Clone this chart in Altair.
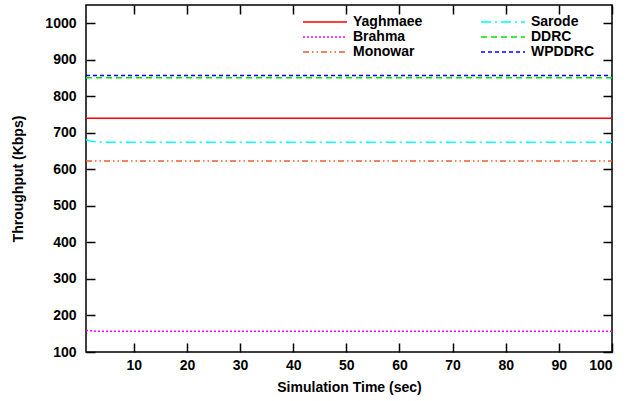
import altair as alt
import pandas as pd

# ---- data ----
series_order = ["Yaghmaee", "Brahma", "Monowar", "Sarode", "DDRC", "WPDDRC"]

yaghmaee_t = [1, 100]
yaghmaee_v = [740, 740]
brahma_t = [1, 3, 100]
brahma_v = [159, 157, 157]
monowar_t = [1, 100]
monowar_v = [623, 623]
sarode_t = [1, 2, 3, 5, 8, 100]
sarode_v = [681, 677, 675, 674, 674, 674]
ddrc_t = [1, 100]
ddrc_v = [851, 851]
wpddrc_t = [1, 100]
wpddrc_v = [857, 857]

x_ticks = [10, 20, 30, 40, 50, 60, 70, 80, 90, 100]
y_ticks = [100, 200, 300, 400, 500, 600, 700, 800, 900, 1000]

colors = {"Yaghmaee": "#ff0000", "Sarode": "#00ffff", "Brahma": "#ff00ff",
          "DDRC": "#00e000", "Monowar": "#f05a28", "WPDDRC": "#0000ff"}
dashes = {"Yaghmaee": [1, 0], "Sarode": [10, 4, 2, 4], "Brahma": [2, 2],
          "DDRC": [6, 4], "Monowar": [6, 3, 1.5, 3, 1.5, 3], "WPDDRC": [4, 3]}

rows = []
for name, ts, vs in [("Yaghmaee", yaghmaee_t, yaghmaee_v), ("Brahma", brahma_t, brahma_v),
                     ("Monowar", monowar_t, monowar_v), ("Sarode", sarode_t, sarode_v),
                     ("DDRC", ddrc_t, ddrc_v), ("WPDDRC", wpddrc_t, wpddrc_v)]:
    for t, v in zip(ts, vs):
        rows.append({"series": name, "t": t, "v": v})
df = pd.DataFrame(rows)

W, H = 526, 347
TK = 9  # inward tick length
FONT = "Liberation Sans"

xscale = alt.Scale(domain=[1, 100], nice=False, zero=False)
yscale = alt.Scale(domain=[100, 1050], nice=False, zero=False)

legend = alt.Legend(orient="none", legendX=216, legendY=9.5, columns=2, title=None,
                    symbolType="stroke", symbolSize=1936, symbolStrokeWidth=1.5,
                    clipHeight=15, rowPadding=0, columnPadding=57, padding=0,
                    labelOffset=5, labelFont=FONT, labelFontSize=14,
                    labelFontWeight="bold", labelColor="black")

lab = dict(labelFont=FONT, labelFontSize=14, labelFontWeight="bold", labelColor="black",
           titleFont=FONT, titleFontSize=14, titleFontWeight="bold", titleColor="black",
           ticks=True, tickSize=TK, tickColor="black", tickWidth=1.5, domain=False,
           grid=False, format="d")

main = alt.Chart(df).mark_line(strokeWidth=1.5).encode(
    x=alt.X("t:Q", scale=xscale,
            axis=alt.Axis(orient="bottom", offset=-TK, values=x_ticks,
                          title="Simulation Time (sec)", labelPadding=6,
                          titlePadding=8, **lab)),
    y=alt.Y("v:Q", scale=yscale,
            axis=alt.Axis(orient="left", offset=-TK, values=y_ticks,
                          title="Throughput (Kbps)", labelPadding=10,
                          titlePadding=19, **lab)),
    color=alt.Color("series:N", scale=alt.Scale(domain=series_order,
                                                range=[colors[s] for s in series_order]),
                    legend=legend),
    strokeDash=alt.StrokeDash("series:N", scale=alt.Scale(domain=series_order,
                                                          range=[dashes[s] for s in series_order]),
                              legend=legend),
    order=alt.Order("t:Q"),
    detail="series:N",
)

# mirrored inward ticks on the top and right edges
mirror = dict(labels=False, domain=False, ticks=True, tickSize=TK, tickColor="black",
              tickWidth=1.5, grid=False, title=None)

ticks_m = alt.Chart(df).mark_point(opacity=0).encode(
    x=alt.X("t:Q", scale=xscale, axis=alt.Axis(orient="top", offset=-TK, values=x_ticks, **mirror)),
    y=alt.Y("v:Q", scale=yscale, axis=alt.Axis(orient="right", offset=-TK, values=y_ticks, **mirror)),
)

chart = alt.layer(main, ticks_m).resolve_axis(
    x="independent", y="independent"
).properties(
    width=W, height=H,
    background="white",
    autosize=alt.AutoSizeParams(type="none"),
    padding={"left": 86, "top": 5, "right": 15, "bottom": 49},
).configure_view(
    stroke="black", strokeWidth=1.5
)

chart.save("out.html", embed_options={"renderer": "svg", "actions": False})
